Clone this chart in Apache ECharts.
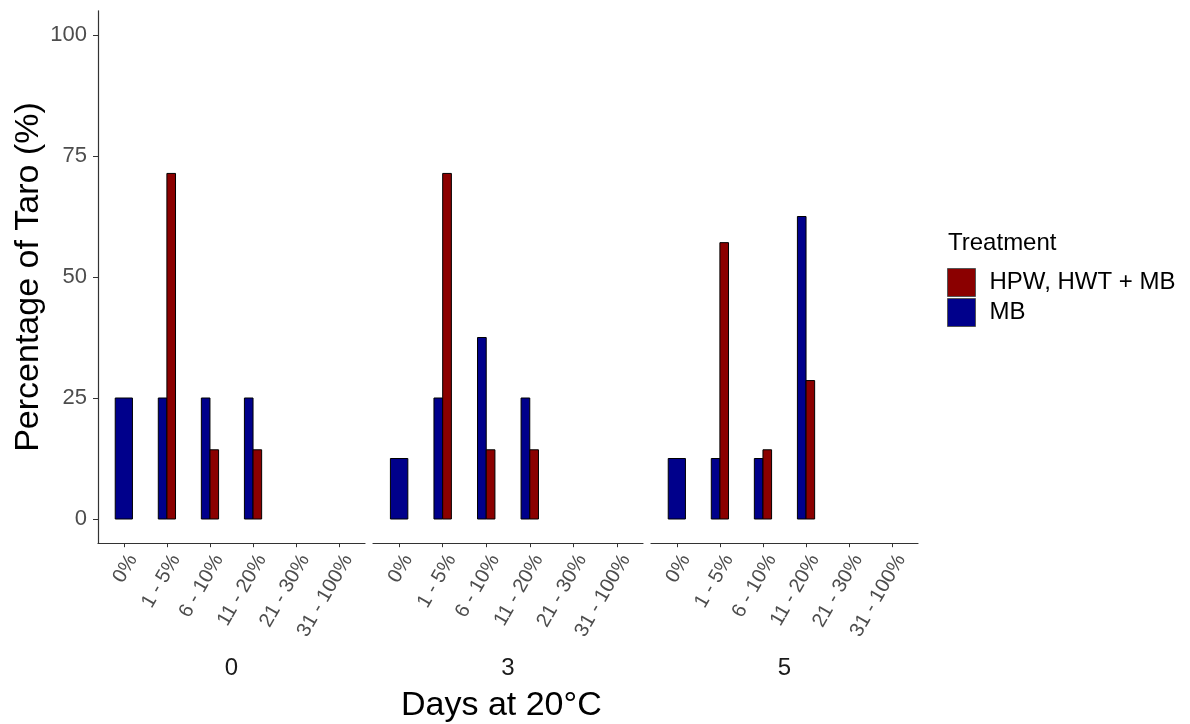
<!DOCTYPE html>
<html>
<head>
<meta charset="utf-8">
<title>Taro damage by days at 20°C</title>
<script src="https://cdn.jsdelivr.net/npm/echarts@6/dist/echarts.min.js"></script>
<style>
  html, body { margin: 0; padding: 0; background: #fff; }
  #main { width: 1190px; height: 724px; }
</style>
</head>
<body>
<div id="main"></div>
<script>
// facet panels (days at 20°C) and damage classes on each x axis
const days = ['0', '3', '5']
const classes = ['0%', '1 - 5%', '6 - 10%', '11 - 20%', '21 - 30%', '31 - 100%']
const yTicks = [0, 25, 50, 75, 100]

// percentage of taro per class, null = no bar
const mbDay0 = [25, 25, 25, 25, null, null]
const mbDay3 = [12.5, 25, 37.5, 25, null, null]
const mbDay5 = [12.5, 12.5, 12.5, 62.5, null, null]
const hpwDay0 = [null, 71.4, 14.3, 14.3, null, null]
const hpwDay3 = [null, 71.4, 14.3, 14.3, null, null]
const hpwDay5 = [null, 57.1, 14.3, 28.6, null, null]

const mbValues = [mbDay0, mbDay3, mbDay5]
const hpwValues = [hpwDay0, hpwDay3, hpwDay5]

const HPW = 'HPW, HWT + MB'
const MB = 'MB'
const colors = { [HPW]: '#8B0000', [MB]: '#00008B' }
const font = 'Liberation Sans, Arial, sans-serif'
const axisColor = '#333'
const labelColor = '#4d4d4d'

// panel boxes in px
const panels = [
  { left: 98, width: 267 },
  { left: 373, width: 270 },
  { left: 651, width: 267 }
]
const panelTop = 10.8
const panelHeight = 532.4

// dodge like ggplot: MB left, HPW right, a lone bar takes full width
function dodged (mb, hpw, which) {
  const out = []
  classes.forEach(function (c, i) {
    const has = [mb[i] != null, hpw[i] != null]
    const n = (has[0] ? 1 : 0) + (has[1] ? 1 : 0)
    if (which === MB && has[0]) out.push([i, mb[i], 0, n])
    if (which === HPW && has[1]) out.push([i, hpw[i], n - 1, n])
  })
  return out
}

function renderBar (params, api) {
  const x = api.value(0)
  const slot = api.value(2)
  const n = api.value(3)
  const base = api.coord([x, 0])
  const tip = api.coord([x, api.value(1)])
  const total = api.size([1, 0])[0] * 0.4
  const w = total / n
  return {
    type: 'rect',
    shape: { x: base[0] - total / 2 + slot * w, y: tip[1], width: w, height: base[1] - tip[1] },
    style: { fill: api.visual('color'), stroke: '#000', lineWidth: 1 }
  }
}

const grid = []
const xAxis = []
const yAxis = []
const series = []

panels.forEach(function (p, k) {
  grid.push({ left: p.left, width: p.width, top: panelTop, height: panelHeight })
  xAxis.push({
    type: 'value',
    gridIndex: k,
    min: -0.6,
    max: 5.6,
    name: days[k],
    nameLocation: 'middle',
    nameGap: 113,
    nameMoveOverlap: false,
    nameTextStyle: { fontFamily: font, fontSize: 24, color: '#1a1a1a' },
    axisLine: { show: true, onZero: false, lineStyle: { color: axisColor, width: 1.2 } },
    axisTick: { show: true, length: 4, lineStyle: { color: axisColor }, customValues: [0, 1, 2, 3, 4, 5] },
    axisLabel: {
      customValues: [0, 1, 2, 3, 4, 5],
      formatter: function (v) { return classes[v] },
      rotate: 60,
      margin: 8,
      verticalAlign: 'top',
      fontFamily: font,
      fontSize: 20,
      color: labelColor
    },
    splitLine: { show: false }
  })
  yAxis.push({
    type: 'value',
    gridIndex: k,
    min: -5,
    max: 105,
    name: k === 0 ? 'Percentage of Taro (%)' : '',
    nameLocation: 'middle',
    nameRotate: 90,
    nameGap: 52,
    nameMoveOverlap: false,
    nameTextStyle: { fontFamily: font, fontSize: 34, color: '#000' },
    axisLine: { show: k === 0, onZero: false, lineStyle: { color: axisColor, width: 1.2 } },
    axisTick: { show: k === 0, length: 5, lineStyle: { color: axisColor }, customValues: yTicks },
    axisLabel: {
      show: k === 0,
      customValues: yTicks,
      margin: 11,
      fontFamily: font,
      fontSize: 22,
      color: labelColor
    },
    splitLine: { show: false }
  })
  ;[MB, HPW].forEach(function (name) {
    series.push({
      type: 'custom',
      name: name,
      xAxisIndex: k,
      yAxisIndex: k,
      itemStyle: { color: colors[name] },
      renderItem: renderBar,
      encode: { x: 0, y: 1 },
      data: dodged(mbValues[k], hpwValues[k], name)
    })
  })
})

const chart = echarts.init(document.getElementById('main'))
chart.setOption({
  animation: false,
  backgroundColor: '#fff',
  grid: grid,
  xAxis: xAxis,
  yAxis: yAxis,
  legend: {
    data: [HPW, MB],
    orient: 'vertical',
    left: 947,
    top: 268,
    padding: 0,
    itemWidth: 28,
    itemHeight: 28,
    itemGap: 1,
    icon: 'rect',
    itemStyle: { borderColor: '#555', borderWidth: 1 },
    textStyle: { fontFamily: font, fontSize: 24, color: '#000', padding: [0, 0, 0, 9] },
    selectedMode: false
  },
  graphic: [
    {
      type: 'text',
      left: 948,
      top: 231,
      style: { text: 'Treatment', fontFamily: font, fontSize: 24, fill: '#000' }
    },
    {
      type: 'text',
      left: 401,
      top: 689,
      style: { text: 'Days at 20°C', fontFamily: font, fontSize: 34, fill: '#000' }
    }
  ],
  series: series
})
</script>
</body>
</html>
